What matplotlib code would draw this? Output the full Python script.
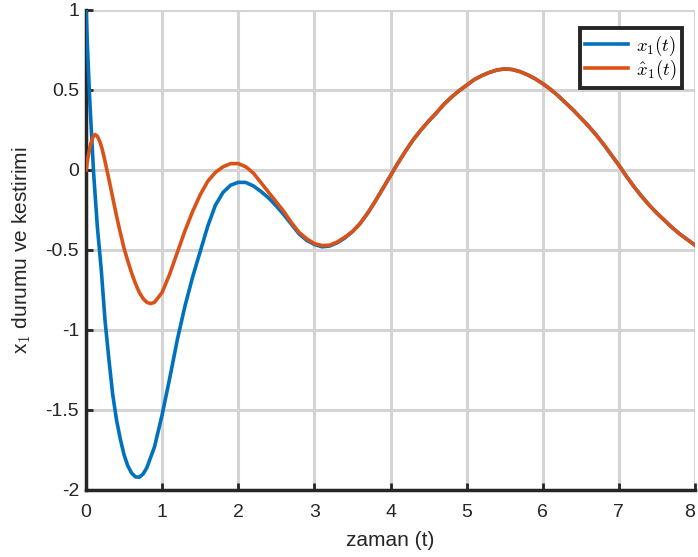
import matplotlib
matplotlib.use("Agg")
import matplotlib.pyplot as plt

# values
# after t ~ 3.5 the two curves lie on top of each other
tail_t = [3.5, 3.6, 3.7, 3.8, 3.9, 4.0, 4.1, 4.2, 4.3, 4.4, 4.5, 4.6, 4.7, 4.8, 4.9,
          5.0, 5.1, 5.2, 5.3, 5.4, 5.5, 5.6, 5.7, 5.8, 5.9, 6.0, 6.1, 6.2, 6.3, 6.4,
          6.5, 6.6, 6.7, 6.8, 6.9, 7.0, 7.1, 7.2, 7.3, 7.4, 7.5, 7.6, 7.7, 7.8, 7.9, 8.0]
tail_x = [-0.385, -0.335, -0.27, -0.195, -0.115, -0.035, 0.045, 0.12, 0.19, 0.25, 0.305,
          0.355, 0.41, 0.455, 0.495, 0.53, 0.565, 0.59, 0.61, 0.625, 0.632, 0.628, 0.615,
          0.595, 0.57, 0.54, 0.505, 0.465, 0.42, 0.375, 0.325, 0.275, 0.22, 0.16, 0.095,
          0.03, -0.04, -0.105, -0.165, -0.22, -0.27, -0.315, -0.36, -0.40, -0.435, -0.47]

# x1(t)
t_x1 = [0, 0.02, 0.05, 0.1, 0.15, 0.2, 0.25, 0.3, 0.35, 0.4, 0.45, 0.5, 0.55, 0.6,
        0.65, 0.7, 0.75, 0.8, 0.9, 1.0, 1.1, 1.2, 1.3, 1.4, 1.5, 1.6, 1.7, 1.8,
        1.9, 2.0, 2.1, 2.2, 2.3, 2.4, 2.5, 2.6, 2.7, 2.8, 2.9, 3.0, 3.1, 3.2, 3.3, 3.4]
x1 = [1.0, 0.76, 0.43, -0.02, -0.36, -0.62, -0.94, -1.18, -1.40, -1.56, -1.68, -1.78, -1.85, -1.895,
      -1.918, -1.92, -1.90, -1.86, -1.73, -1.53, -1.30, -1.06, -0.85, -0.67, -0.51, -0.35, -0.22, -0.14,
      -0.095, -0.077, -0.078, -0.10, -0.135, -0.175, -0.225, -0.28, -0.34, -0.40, -0.44, -0.465, -0.48,
      -0.475, -0.455, -0.425]

# x1 hat (estimate)
t_x1h = [0, 0.03, 0.06, 0.09, 0.12, 0.15, 0.18, 0.21, 0.24, 0.27, 0.3, 0.35, 0.4, 0.45,
         0.5, 0.55, 0.6, 0.65, 0.7, 0.75, 0.8, 0.85, 0.9, 1.0, 1.1, 1.2, 1.3, 1.4, 1.5,
         1.6, 1.7, 1.8, 1.9, 2.0, 2.1, 2.2, 2.3, 2.4, 2.5, 2.6, 2.7, 2.8, 2.9, 3.0, 3.1,
         3.2, 3.3, 3.4]
x1h = [0.0, 0.09, 0.16, 0.205, 0.222, 0.21, 0.18, 0.135, 0.075, 0.01, -0.055, -0.17, -0.285,
       -0.39, -0.49, -0.57, -0.645, -0.71, -0.765, -0.804, -0.827, -0.835, -0.827, -0.765, -0.65,
       -0.515, -0.38, -0.26, -0.155, -0.07, -0.015, 0.02, 0.04, 0.04, 0.02, -0.02, -0.08, -0.14,
       -0.20, -0.26, -0.33, -0.39, -0.43, -0.46, -0.472, -0.47, -0.45, -0.42]

xticks = [0, 1, 2, 3, 4, 5, 6, 7, 8]
yticks = [-2, -1.5, -1, -0.5, 0, 0.5, 1]
ytick_labels = ["-2", "-1.5", "-1", "-0.5", "0", "0.5", "1"]

plt.rcParams["font.family"] = ["Liberation Sans", "DejaVu Sans"]
plt.rcParams["mathtext.fontset"] = "cm"

fig = plt.figure(figsize=(6.98, 5.57), dpi=100)
ax = fig.add_axes([86 / 698, 1 - 490 / 557, 609 / 698, 480 / 557])

ax.plot(t_x1 + tail_t, x1 + tail_x, color="#0072BD", lw=2.6, label=r"$x_1(t)$",
        solid_joinstyle="round", zorder=3)
ax.plot(t_x1h + tail_t, x1h + tail_x, color="#D95319", lw=2.6, label=r"$\hat{x}_1(t)$",
        solid_joinstyle="round", zorder=4)

ax.set_xlim(0, 8)
ax.set_ylim(-2, 1)
ax.set_xticks(xticks)
ax.set_yticks(yticks)
ax.set_yticklabels(ytick_labels)
ax.grid(True, color="#d4d4d4", lw=2.2)
ax.set_axisbelow(True)

for side in ["top", "right"]:
    ax.spines[side].set_visible(False)
for side in ["left", "bottom"]:
    ax.spines[side].set_linewidth(2.5)
    ax.spines[side].set_color("#262626")
ax.tick_params(direction="in", length=5, width=2, color="#262626",
               labelsize=14, labelcolor="#262626")
ax.tick_params(axis="x", pad=10)
ax.tick_params(axis="y", pad=5)
# last x label sits at the figure edge, keep it inside
ax.get_xticklabels()[-1].set_horizontalalignment("right")

ax.set_xlabel("zaman (t)", fontsize=15, color="#262626", labelpad=7)
ax.set_ylabel(r"x$_1$ durumu ve kestirimi", fontsize=15, color="#262626", labelpad=9)

leg = ax.legend(loc="upper right", bbox_to_anchor=(0.979, 0.963), borderaxespad=0,
                fontsize=13.5, fancybox=False, framealpha=1, edgecolor="#262626",
                handlelength=2.3, borderpad=0.3, labelspacing=0.02, handletextpad=0.4)
leg.get_frame().set_linewidth(2.8)

fig.savefig("out.png", dpi=100)
